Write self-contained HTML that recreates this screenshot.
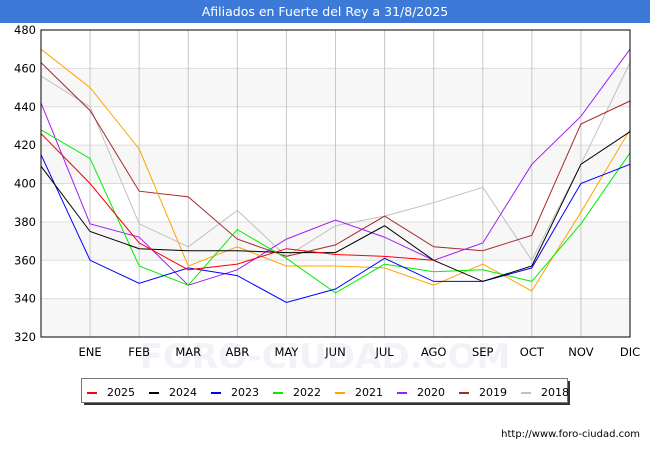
<!DOCTYPE html>
<html><head><meta charset="utf-8"><style>
body{margin:0;width:650px;height:450px;background:#fff;font-family:"DejaVu Sans","Liberation Sans",sans-serif;overflow:hidden}
</style></head><body>
<svg id="c" width="650" height="450" xmlns="http://www.w3.org/2000/svg">
<rect x="0" y="0" width="650" height="23" fill="#3d7ad8"/>
<text x="325" y="16" text-anchor="middle" fill="#fff" font-size="12.5">Afiliados en Fuerte del Rey a 31/8/2025</text>
<text x="325" y="368" text-anchor="middle" fill="#f1f3f8" font-size="34" font-weight="bold">FORO-CIUDAD.COM</text>
<g id="grid"></g>
<g id="series"></g>
<rect x="41" y="30" width="589" height="307" fill="none" stroke="#000" stroke-width="1"/>
<g id="legend"></g>
<text x="640" y="437" text-anchor="end" font-size="10" fill="#000">http://www.foro-ciudad.com</text>
</svg>
<script>
const months=["","ENE","FEB","MAR","ABR","MAY","JUN","JUL","AGO","SEP","OCT","NOV","DIC"];
const yTicks=[320,340,360,380,400,420,440,460,480];
const seriesNames=["2025","2024","2023","2022","2021","2020","2019","2018"];
const seriesColors=["#ff0000","#000000","#0000ff","#00ee00","#ffa500","#a020f0","#a52a2a","#c0c0c0"];
const s2025=[426,400,369,355,358,366,363,362,360];
const s2024=[409,375,366,365,365,364,364,378,360,349,357,410,427];
const s2023=[415,360,348,356,352,338,345,361,349,349,356,400,410];
const s2022=[428,413,357,347,376,361,343,358,354,355,349,379,416];
const s2021=[470,450,418,357,367,357,357,356,347,358,344,385,428];
const s2020=[442,379,372,347,355,371,381,372,360,369,410,435,470];
const s2019=[463,438,396,393,371,362,368,383,367,365,373,431,443];
const s2018=[456,440,379,367,386,362,378,383,390,398,360,410,463];
const allSeries=[s2025,s2024,s2023,s2022,s2021,s2020,s2019,s2018];
const NS="http://www.w3.org/2000/svg";
const X0=41,X1=630,Y0=30,Y1=337,VMIN=320,VMAX=480;
function xs(i){return X0+i*(X1-X0)/12;}
function ys(v){return Y1-(v-VMIN)*(Y1-Y0)/(VMAX-VMIN);}
function mk(tag,attrs,parent){const e=document.createElementNS(NS,tag);for(const k in attrs)e.setAttribute(k,attrs[k]);parent.appendChild(e);return e;}
const grid=document.getElementById('grid');
for(let i=0;i<yTicks.length-1;i++){
  if(i%2===0){const r=mk('rect',{x:X0,y:ys(yTicks[i+1]),width:X1-X0,height:ys(yTicks[i])-ys(yTicks[i+1]),fill:'#f7f7f7'},grid);
  
  }
}
yTicks.forEach(v=>{
  const l=mk('line',{x1:X0,x2:X1,y1:ys(v),y2:ys(v),stroke:'#dddddd','stroke-width':1},grid);
  
  
  const t=mk('text',{x:X0-5,y:ys(v)+4,'text-anchor':'end','font-size':11.5,fill:'#000'},grid);
  t.textContent=v;
  
  
});
months.forEach((m,i)=>{
  if(i===0)return;
  const l=mk('line',{x1:xs(i),x2:xs(i),y1:Y0,y2:Y1,stroke:'#c8c8c8','stroke-width':1},grid);
  
  
  const t=mk('text',{x:xs(i),y:356,'text-anchor':'middle','font-size':11.5,fill:'#000'},grid);
  t.textContent=m;
  
  
});
const sg=document.getElementById('series');
for(let k=allSeries.length-1;k>=0;k--){
  const pts=allSeries[k].map((v,i)=>xs(i).toFixed(1)+','+ys(v).toFixed(1)).join(' ');
  const p=mk('polyline',{points:pts,fill:'none',stroke:seriesColors[k],'stroke-width':1},sg);
  
  
}
const lg=document.getElementById('legend');
const sh=mk('rect',{x:84,y:381,width:486,height:24,fill:'#333'},lg);


const box=mk('rect',{x:81.5,y:378.5,width:486,height:24,fill:'#fff',stroke:'#777'},lg);


seriesNames.forEach((n,k)=>{
  const x=87+k*62;
  const m=mk('rect',{x:x,y:392,width:10,height:2,fill:seriesColors[k]},lg);
  
  
  const t=mk('text',{x:x+20,y:396,'font-size':11,fill:'#000'},lg);
  t.textContent=n;
  
  
});
</script>
</body></html>
